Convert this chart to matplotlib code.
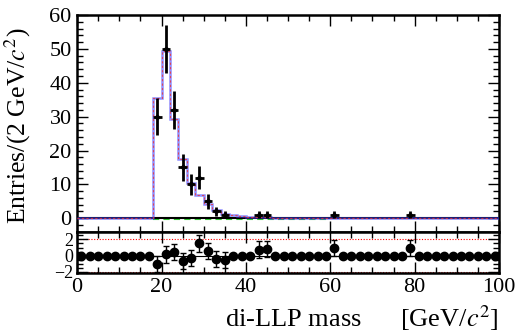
import numpy as np
import matplotlib
matplotlib.use("Agg")
import matplotlib.pyplot as plt
from matplotlib.ticker import MultipleLocator

plt.rcParams["font.family"] = ["Liberation Serif", "DejaVu Serif"]
plt.rcParams["mathtext.fontset"] = "stix"

# 2 GeV bins from 0 to 100
edges = np.arange(0, 102, 2)
centers = edges[:-1] + 1

# observed entries (only non-empty bins)
data_x = [19, 21, 23, 25, 27, 29, 31, 33, 35, 43, 45, 61, 79]
data_y = [30, 50, 32, 15, 10, 12, 5, 2, 1, 1, 1, 1, 1]

# fitted model per bin, starting at 18 GeV
fit_start = 18
fit_vals = [35.6, 49.5, 29.3, 17.4, 10.5, 7.0, 4.1, 2.4, 1.4, 0.9, 0.6, 0.4,
            0.3, 0.22, 0.16, 0.12, 0.09, 0.07, 0.05, 0.04, 0.03, 0.02, 0.02,
            0.01, 0.01]

# pulls per bin (non-zero ones listed, rest 0)
pull_x = [19, 21, 23, 25, 27, 29, 31, 33, 35, 43, 45, 61, 79]
pull_y = [-1.05, 0.15, 0.45, -0.65, -0.25, 1.5, 0.6, -0.4, -0.55, 0.75, 0.8, 0.95, 0.95]

fit = np.zeros(len(centers))
i0 = fit_start // 2
fit[i0:i0 + len(fit_vals)] = fit_vals

pulls = np.zeros(len(centers))
perr = np.zeros(len(centers))
for x, p in zip(pull_x, pull_y):
  k = list(centers).index(x)
  pulls[k] = p
  perr[k] = 1.0

fig = plt.figure(figsize=(5.32, 3.34), dpi=100)
ax = fig.add_axes([0.145, 0.305, 0.793, 0.65])
axp = fig.add_axes([0.145, 0.183, 0.793, 0.122], sharex=ax)

# model
ax.plot([0, 100], [0, 0], color="black", lw=1.5, zorder=2)
ax.plot([18, 60], [-0.3, -0.3], color="#33cc33", lw=1.5, ls=(0, (3, 2)), zorder=1)
ax.stairs(fit, edges, color="#4444ff", lw=1.8, alpha=0.6, zorder=3)
ax.stairs(fit, edges, color="#ee3333", lw=0.8, ls=(0, (2, 2)), alpha=0.8, zorder=4)

# data
ax.errorbar(data_x, data_y, yerr=np.sqrt(data_y), xerr=1, fmt="o", color="black",
            ms=2.5, elinewidth=2, capsize=0, zorder=5)

ax.set_xlim(0, 100)
ax.set_ylim(-4.1, 60)
ax.yaxis.set_major_locator(MultipleLocator(10))
ax.yaxis.set_minor_locator(MultipleLocator(2))
ax.xaxis.set_major_locator(MultipleLocator(20))
ax.xaxis.set_minor_locator(MultipleLocator(5))
ax.tick_params(axis="x", labelbottom=False)
ax.set_ylabel("Entries/(2 GeV/$c^2$)", fontsize=18.5)
ax.yaxis.set_label_coords(-0.105, 0.49)

# pulls
axp.axhline(0, color="black", lw=0.8, zorder=1)
axp.axhline(2, color="red", lw=0.8, ls=(0, (1, 1.5)), zorder=1)
axp.axhline(-2, color="red", lw=0.8, ls=(0, (1, 1.5)), zorder=1)
axp.errorbar(centers, pulls, yerr=perr, fmt="o", color="black", ms=6,
             elinewidth=1, capsize=2, zorder=3)
axp.set_ylim(-2.12, 2.9)
axp.yaxis.set_major_locator(MultipleLocator(2))
axp.yaxis.set_minor_locator(MultipleLocator(0.5))
axp.set_xlabel("di-LLP mass      [GeV/$c^2$]", fontsize=19, ha="right", x=1.0)

for a in (ax, axp):
  a.tick_params(which="both", direction="in", top=True, right=True, labelsize=16, pad=4)
  a.tick_params(which="major", length=8, width=1)
  a.tick_params(which="minor", length=4, width=1)
  for s in a.spines.values():
    s.set_linewidth(1.8)
axp.tick_params(axis="y", labelsize=13, pad=3)

fig.savefig("out.png", dpi=100)
